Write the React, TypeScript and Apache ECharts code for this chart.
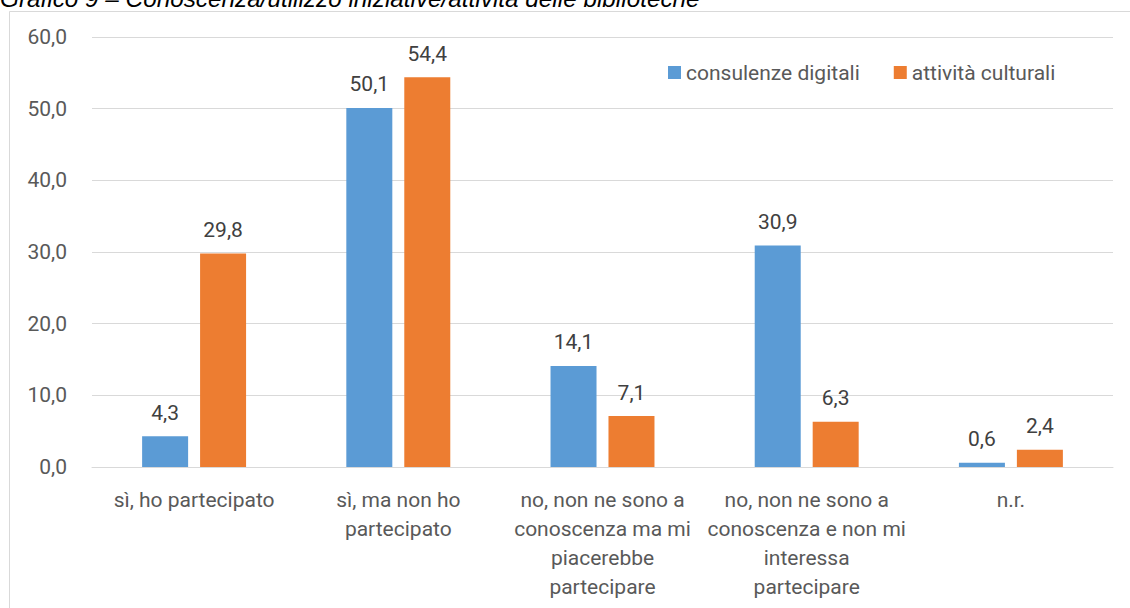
import React, { useEffect, useRef } from "react";
import * as echarts from "echarts";

const categories = [
  "sì, ho partecipato",
  "sì, ma non ho\npartecipato",
  "no, non ne sono a\nconoscenza ma mi\npiacerebbe\npartecipare",
  "no, non ne sono a\nconoscenza e non mi\ninteressa\npartecipare",
  "n.r.",
];
const seriesNames = ["consulenze digitali", "attività culturali"];
const consulenzeDigitali = [4.3, 50.1, 14.1, 30.9, 0.6];
const attivitaCulturali = [29.8, 54.4, 7.1, 6.3, 2.4];
const titleText = "Grafico 9 – Conoscenza/utilizzo iniziative/attività delle biblioteche";

const FONT = "Roboto, 'Noto Sans', sans-serif";
const FS = 21;
const fmt = (v: number) => v.toFixed(1).replace(".", ",");

export default function App() {
  const ref = useRef<HTMLDivElement>(null);
  useEffect(() => {
    document.body.style.margin = "0";
    const chart = echarts.init(ref.current!, null, { renderer: "svg" });
    const labelCfg = {
      show: true,
      position: "top" as const,
      distance: 13,
      color: "#404040",
      fontSize: FS,
      fontFamily: FONT,
      formatter: (p: any) => fmt(p.value),
    };
    chart.setOption({
      animation: false,
      backgroundColor: "#ffffff",
      textStyle: { fontFamily: FONT },
      graphic: [
        {
          type: "rect",
          shape: { x: 9.5, y: 11.5, width: 1200, height: 700 },
          style: { fill: "none", stroke: "#D9D9D9", lineWidth: 1 },
          silent: true,
          z: -1,
        },
        {
          type: "text",
          x: 0,
          y: 10,
          style: {
            text: titleText,
            fontFamily: "'Liberation Sans', Arial, sans-serif",
            fontStyle: "italic",
            fontSize: 24.3,
            fill: "#000000",
            textVerticalAlign: "bottom",
          },
        },
      ],
      legend: {
        data: seriesNames,
        left: 663,
        top: 57,
        itemWidth: 13,
        itemHeight: 13,
        itemGap: 34,
        icon: "rect",
        textStyle: { color: "#595959", fontSize: FS, fontFamily: FONT },
      },
      grid: { left: 92, right: 17, top: 37, bottom: 141, containLabel: false },
      xAxis: {
        type: "category",
        data: categories,
        axisLine: { lineStyle: { color: "#D9D9D9", width: 1 } },
        axisTick: { show: false },
        axisLabel: {
          color: "#595959",
          fontSize: FS,
          fontFamily: FONT,
          margin: 18,
          lineHeight: 29,
          interval: 0,
        },
      },
      yAxis: {
        type: "value",
        min: 0,
        max: 60,
        interval: 10,
        axisLine: { show: false },
        axisTick: { show: false },
        splitLine: { lineStyle: { color: "#D9D9D9", width: 1 } },
        axisLabel: {
          color: "#595959",
          fontSize: FS,
          fontFamily: FONT,
          margin: 25,
          formatter: (v: number) => fmt(v),
        },
      },
      series: [
        {
          name: seriesNames[0],
          type: "bar",
          data: consulenzeDigitali,
          itemStyle: { color: "#5B9BD5" },
          barWidth: 46,
          barGap: "26%",
          label: labelCfg,
        },
        {
          name: seriesNames[1],
          type: "bar",
          data: attivitaCulturali,
          itemStyle: { color: "#ED7D31" },
          barWidth: 46,
          label: labelCfg,
        },
      ],
    });
    return () => chart.dispose();
  }, []);
  return <div ref={ref} style={{ width: 1130, height: 608 }} />;
}
